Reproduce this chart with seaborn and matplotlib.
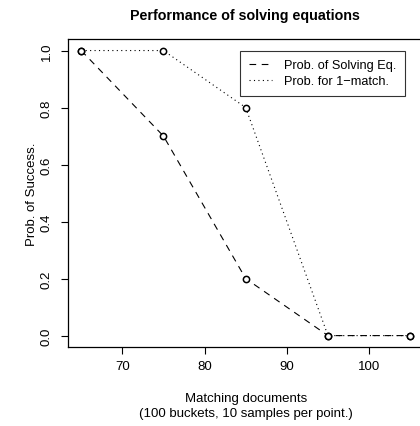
import matplotlib
matplotlib.use("Agg")
import matplotlib.pyplot as plt
import seaborn as sns
import pandas as pd

# datos
docs = [65, 75, 85, 95, 105]
prob_solving = [1.0, 0.7, 0.2, 0.0, 0.0]
prob_match = [1.0, 1.0, 0.8, 0.0, 0.0]
series_names = ["Prob. of Solving Eq.", "Prob. for 1\u2212match."]

sns.set_style("ticks")
plt.rcParams["font.family"] = ["Liberation Sans", "DejaVu Sans"]
plt.rcParams["text.color"] = "black"
plt.rcParams["axes.labelcolor"] = "black"
plt.rcParams["xtick.color"] = "black"
plt.rcParams["ytick.color"] = "black"

fig = plt.figure(figsize=(4.2, 4.27), dpi=100)
ax = fig.add_axes([0.162, 0.185, 0.846, 0.721])

df = pd.DataFrame({"x": docs, "solve": prob_solving, "match": prob_match})

sns.lineplot(data=df, x="x", y="solve", ax=ax, color="black", lw=0.8,
             linestyle=(0, (6, 5)), marker="o", markersize=4.5,
             markerfacecolor="white", markeredgecolor="black", markeredgewidth=1.1,
             label=series_names[0])
sns.lineplot(data=df, x="x", y="match", ax=ax, color="black", lw=0.8,
             linestyle=(0, (1, 3)), marker="o", markersize=4.5,
             markerfacecolor="white", markeredgecolor="black", markeredgewidth=1.1,
             label=series_names[1])

ax.set_xlim(63.4, 106.6)
ax.set_ylim(-0.04, 1.04)
ax.set_xticks([70, 80, 90, 100])
ax.set_yticks([0.0, 0.2, 0.4, 0.6, 0.8, 1.0])
ax.set_yticklabels(["0.0", "0.2", "0.4", "0.6", "0.8", "1.0"], rotation=90, va="center")
ax.tick_params(axis="both", length=5, width=0.8, labelsize=9.5, colors="black", pad=4)
ax.tick_params(axis="y", pad=6)
for sp in ax.spines.values():
    sp.set_visible(True)
    sp.set_linewidth(0.9)
    sp.set_color("black")

ax.set_xlabel("Matching documents\n(100 buckets, 10 samples per point.)", fontsize=9.5,
              labelpad=15, linespacing=1.25)
ax.set_ylabel("Prob. of Success.", fontsize=9.5, labelpad=2)
fig.text(0.583, 0.962, "Performance of solving equations", ha="center", va="center",
         fontsize=10.3, fontweight="bold")

leg = ax.legend(loc="upper right", bbox_to_anchor=(0.947, 0.961), frameon=True, fancybox=False,
                fontsize=9.2, handlelength=1.8, borderpad=0.65, labelspacing=0.3,
                handletextpad=0.95, borderaxespad=0)
leg.get_frame().set_edgecolor("black")
leg.get_frame().set_linewidth(0.8)
for h in leg.legend_handles:
    h.set_marker("")

fig.savefig("out.png", dpi=100)
